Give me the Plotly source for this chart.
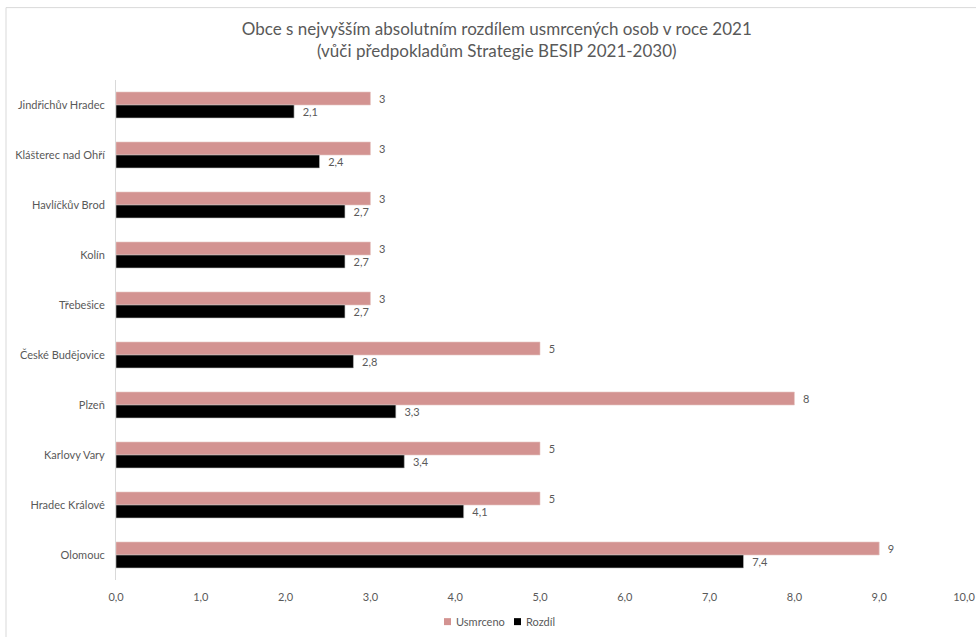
import plotly.graph_objects as go

# Municipalities, listed top to bottom
obce = [
    "Jindřichův Hradec",
    "Klášterec nad Ohří",
    "Havlíčkův Brod",
    "Kolín",
    "Třebešice",
    "České Budějovice",
    "Plzeň",
    "Karlovy Vary",
    "Hradec Králové",
    "Olomouc",
]
usmrceno = [3, 3, 3, 3, 3, 5, 8, 5, 5, 9]
rozdil = [2.1, 2.4, 2.7, 2.7, 2.7, 2.8, 3.3, 3.4, 4.1, 7.4]
x_ticks = [0, 1, 2, 3, 4, 5, 6, 7, 8, 9, 10]
series_names = ["Usmrceno", "Rozdíl"]

FONT = "Lato"
GRAY = "#595959"
PINK = "#D39391"
BLACK = "#000000"
PAD = "\u00a0\u00a0"

fig = go.Figure()
fig.add_trace(go.Bar(
    y=obce, x=usmrceno, orientation="h", name=series_names[0],
    marker=dict(color=PINK, line=dict(color="#E6C6C5", width=0.6)),
    text=[PAD + f"{v:d}" for v in usmrceno],
    textposition="outside", cliponaxis=False,
    textfont=dict(family=FONT, size=11, color=GRAY),
    showlegend=False,
))
fig.add_trace(go.Bar(
    y=obce, x=rozdil, orientation="h", name=series_names[1],
    marker=dict(color=BLACK, line=dict(color="#BFBFBF", width=0.6)),
    text=[PAD + f"{v:.1f}".replace(".", ",") for v in rozdil],
    textposition="outside", cliponaxis=False,
    textfont=dict(family=FONT, size=11, color=GRAY),
    showlegend=False,
))

# Geometry of the plotting area (pixels)
L, R, T, B = 116, 12, 79.5, 56.7
W, H = 976, 637
pw, ph = W - L - R, H - T - B


def px_x(x):
    return (x - L) / pw


def px_y(y):
    return (H - B - y) / ph


# Outer chart border
fig.add_shape(
    type="rect", xref="paper", yref="paper",
    x0=px_x(6), x1=px_x(985), y0=px_y(645), y1=px_y(7),
    line=dict(color="#D9D9D9", width=1), fillcolor="rgba(0,0,0,0)",
    layer="below",
)

# Compact legend below the axis: small square swatch + label
legend_items = [(series_names[0], PINK, 444), (series_names[1], BLACK, 514)]
for name, color, x0 in legend_items:
    fig.add_shape(
        type="rect", xref="paper", yref="paper",
        x0=px_x(x0), x1=px_x(x0 + 7), y0=px_y(625.5), y1=px_y(618.5),
        line=dict(width=0), fillcolor=color,
    )
    fig.add_annotation(
        xref="paper", yref="paper", x=px_x(x0 + 10), y=px_y(622),
        text=name, showarrow=False, xanchor="left", yanchor="middle",
        font=dict(family=FONT, size=11, color=GRAY),
    )

fig.update_layout(
    width=W, height=H,
    margin=dict(l=L, r=R, t=T, b=B, pad=0),
    paper_bgcolor="white", plot_bgcolor="white",
    barmode="group", bargap=0.48, bargroupgap=0,
    separators=", ",
    font=dict(family=FONT, color=GRAY, size=11),
    title=dict(
        text="Obce s nejvyšším absolutním rozdílem usmrcených osob v roce 2021"
             "<br>(vůči předpokladům Strategie BESIP 2021-2030)",
        x=0.509, xref="container", xanchor="center",
        y=1 - 35 / H, yref="container", yanchor="middle",
        font=dict(family=FONT, size=17, color=GRAY),
    ),
    xaxis=dict(
        range=[0, 10], tickvals=x_ticks, tickformat=".1f",
        showgrid=False, zeroline=False, showline=False, automargin=False,
        ticks="", ticklen=0, ticklabelstandoff=9,
        tickfont=dict(family=FONT, size=11, color=GRAY),
        fixedrange=True,
    ),
    yaxis=dict(
        autorange="reversed", showgrid=False, zeroline=False, automargin=False,
        showline=True, linecolor="#D9D9D9", linewidth=1,
        ticks="", ticklabelstandoff=8,
        tickfont=dict(family=FONT, size=11, color=GRAY),
    ),
    showlegend=False,
)

fig.write_html("out.html")
